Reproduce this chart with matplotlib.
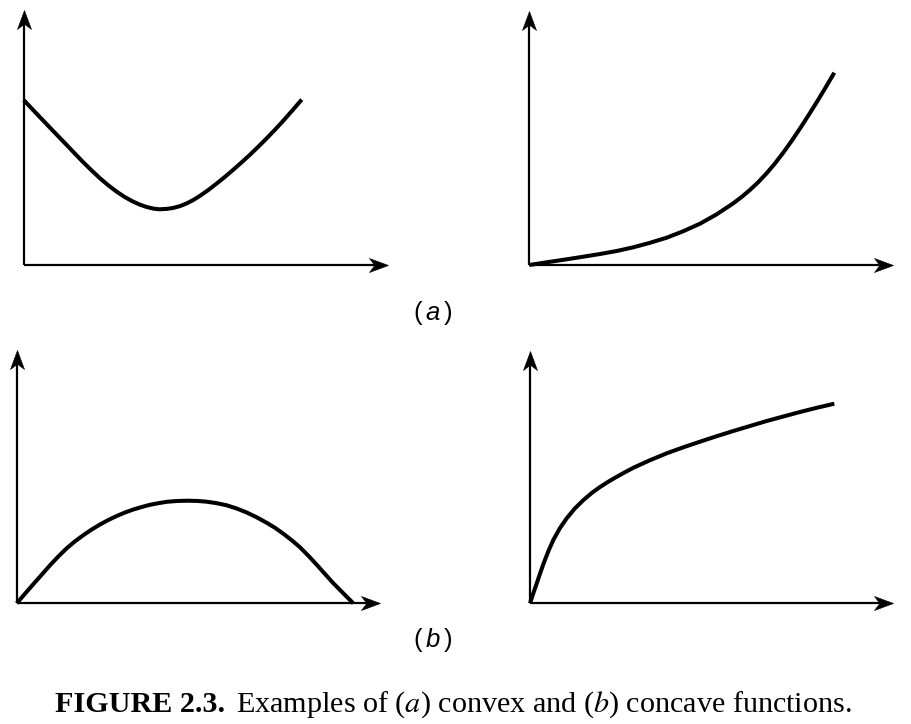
import matplotlib
matplotlib.use("Agg")
import matplotlib.pyplot as plt
from matplotlib.path import Path

plt.rcParams['mathtext.fontset'] = 'custom'
plt.rcParams['mathtext.it'] = 'Liberation Sans:italic'
plt.rcParams['mathtext.rm'] = 'Liberation Sans'

# ---- data: curve points (image pixel coordinates) ----
convex1_x = [23.7, 33.3, 41.7, 50, 58.3, 66.7, 75, 83.3, 91.7, 100, 108.3, 116.7, 125, 133.3, 140,
             146.7, 153.3, 159.3, 166.7, 173.3, 180, 186.7, 193.3, 200, 208.3, 216.7, 225, 233.3,
             241.7, 250, 258.3, 266.7, 275, 283.3, 292.3, 301.7]
convex1_y = [100, 110.2, 119, 127.7, 136.3, 145, 153.7, 162.3, 170.5, 178.3, 185.3, 191.7, 197.2, 201.7,
             204.7, 207, 208.6, 209.3, 208.9, 207.9, 206.1, 203.4, 200.0, 195.8, 190.0, 183.5, 176.8,
             169.7, 162.3, 154.7, 146.7, 138.3, 129.7, 120.7, 110.5, 99.6]

convex2_x = [529.3, 550, 566.7, 583.3, 600, 616.7, 633.3, 650, 666.7, 683.3, 700, 716.7, 733.3, 741.7,
             750, 758.3, 766.7, 775, 783.3, 791.7, 800, 808.3, 816.7, 825, 834.3]
convex2_y = [265, 261.8, 259.3, 256.7, 254, 251, 247.3, 242.8, 237.7, 231.2, 223.7, 214.3, 203.3, 196.9,
             189.9, 182.1, 173.2, 163.4, 152.6, 140.8, 128.5, 115.6, 102.2, 88.5, 72.7]

concave1_x = [16.7, 25, 33.3, 41.7, 50, 58.3, 66.7, 75, 83.3, 91.7, 100, 108.3, 116.7, 125, 133.3, 141.7,
              150, 158.3, 166.7, 176.7, 187.7, 198.3, 206.7, 216.7, 226.7, 236.7, 246.7, 256.7, 266.7,
              275, 283.3, 291.7, 300, 308.3, 316.7, 325, 333.3, 343.3, 353.3]
concave1_y = [603.3, 593.7, 584.2, 574.7, 565.3, 556.5, 548.3, 541.3, 535.2, 529.5, 524.5, 520, 516, 512.5,
              509.5, 507, 504.8, 503.2, 501.8, 501, 500.7, 501, 501.7, 503.2, 505.3, 508.5, 512.5, 517.3,
              522.8, 527.8, 533.7, 540.2, 547.3, 555.7, 564.7, 574, 583.2, 593.3, 603.3]

concave2_x = [530, 533.3, 536.7, 540, 543.3, 548.3, 553.3, 560, 566.7, 575, 583.3, 591.7, 600, 608.3,
              616.7, 625, 633.3, 650, 666.7, 683.3, 700, 716.7, 733.3, 750, 766.7, 783.3, 800, 816.7, 834.3]
concave2_y = [603.3, 593.3, 583.5, 573.7, 564.2, 551.3, 540, 528, 518.3, 508.3, 500.2, 493, 487, 481.7,
              476.8, 472.2, 467.8, 460.2, 453.3, 447.3, 441.7, 436.2, 431, 426, 421, 416.5, 412, 407.8, 403.7]

panel_labels = [r"($\,a\,$)", r"($\,b\,$)"]
caption_bold = "FIGURE 2.3."
caption_rest = "Examples of ($a$) convex and ($b$) concave functions."

# ---- layout ----
W, H = 911, 724
fig = plt.figure(figsize=(W / 100, H / 100), dpi=100)

# stealth-like arrowheads (tip at marker origin)
arrow_right = Path([(0, 0), (-1, 0.37), (-0.72, 0), (-1, -0.37), (0, 0)],
                   [Path.MOVETO, Path.LINETO, Path.LINETO, Path.LINETO, Path.CLOSEPOLY])
arrow_up = Path([(0, 0), (0.37, -1), (0, -0.72), (-0.37, -1), (0, 0)],
                [Path.MOVETO, Path.LINETO, Path.LINETO, Path.LINETO, Path.CLOSEPOLY])
HEAD_PX = 19
MS = HEAD_PX * 2 * 72 / 100


def add_panel(ox, oy, xt, yt, x, y):
    # axes spanning from the origin corner to the arrow tips, in image pixel units
    ax = fig.add_axes([ox / W, 1 - oy / H, (xt - ox) / W, (oy - yt) / H])
    ax.set_xlim(ox, xt)
    ax.set_ylim(oy, yt)
    ax.axis('off')
    x0, x1 = ax.get_xlim()
    y0, y1 = ax.get_ylim()
    ax.plot([x0, x1 - HEAD_PX * 0.6], [y0, y0], color='black', lw=1.6,
            solid_capstyle='butt', clip_on=False)
    ax.plot([x0, x0], [y0, y1 + HEAD_PX * 0.6], color='black', lw=1.6,
            solid_capstyle='butt', clip_on=False)
    ax.plot([x1], [y0], marker=arrow_right, ms=MS, color='black',
            markeredgewidth=0.4, clip_on=False)
    ax.plot([x0], [y1], marker=arrow_up, ms=MS, color='black',
            markeredgewidth=0.4, clip_on=False)
    ax.plot(x, y, color='black', lw=2.9, solid_capstyle='butt',
            solid_joinstyle='round', clip_on=False)
    return ax


add_panel(23.7, 265, 388, 10, convex1_x, convex1_y)
add_panel(529.3, 265, 893, 11, convex2_x, convex2_y)
add_panel(16.7, 603.3, 380, 350, concave1_x, concave1_y)
add_panel(530, 603.3, 893, 351, concave2_x, concave2_y)

fig.text(433 / W, 1 - 313 / H, panel_labels[0], ha='center', va='center',
         fontsize=18.5, family='Liberation Sans', math_fontfamily='custom')
fig.text(433 / W, 1 - 640 / H, panel_labels[1], ha='center', va='center',
         fontsize=18.5, family='Liberation Sans', math_fontfamily='custom')

t1 = fig.text(55 / W, 1 - 712 / H, caption_bold, ha='left', va='baseline',
              fontsize=21.7, family='Liberation Serif', weight='bold')
fig.canvas.draw()
bb = t1.get_window_extent()
fig.text((bb.x1 + 11) / W, 1 - 712 / H, caption_rest, ha='left', va='baseline',
         fontsize=21.7, family='Liberation Serif', math_fontfamily='stix')

fig.savefig("out.png", dpi=100, facecolor='white')
